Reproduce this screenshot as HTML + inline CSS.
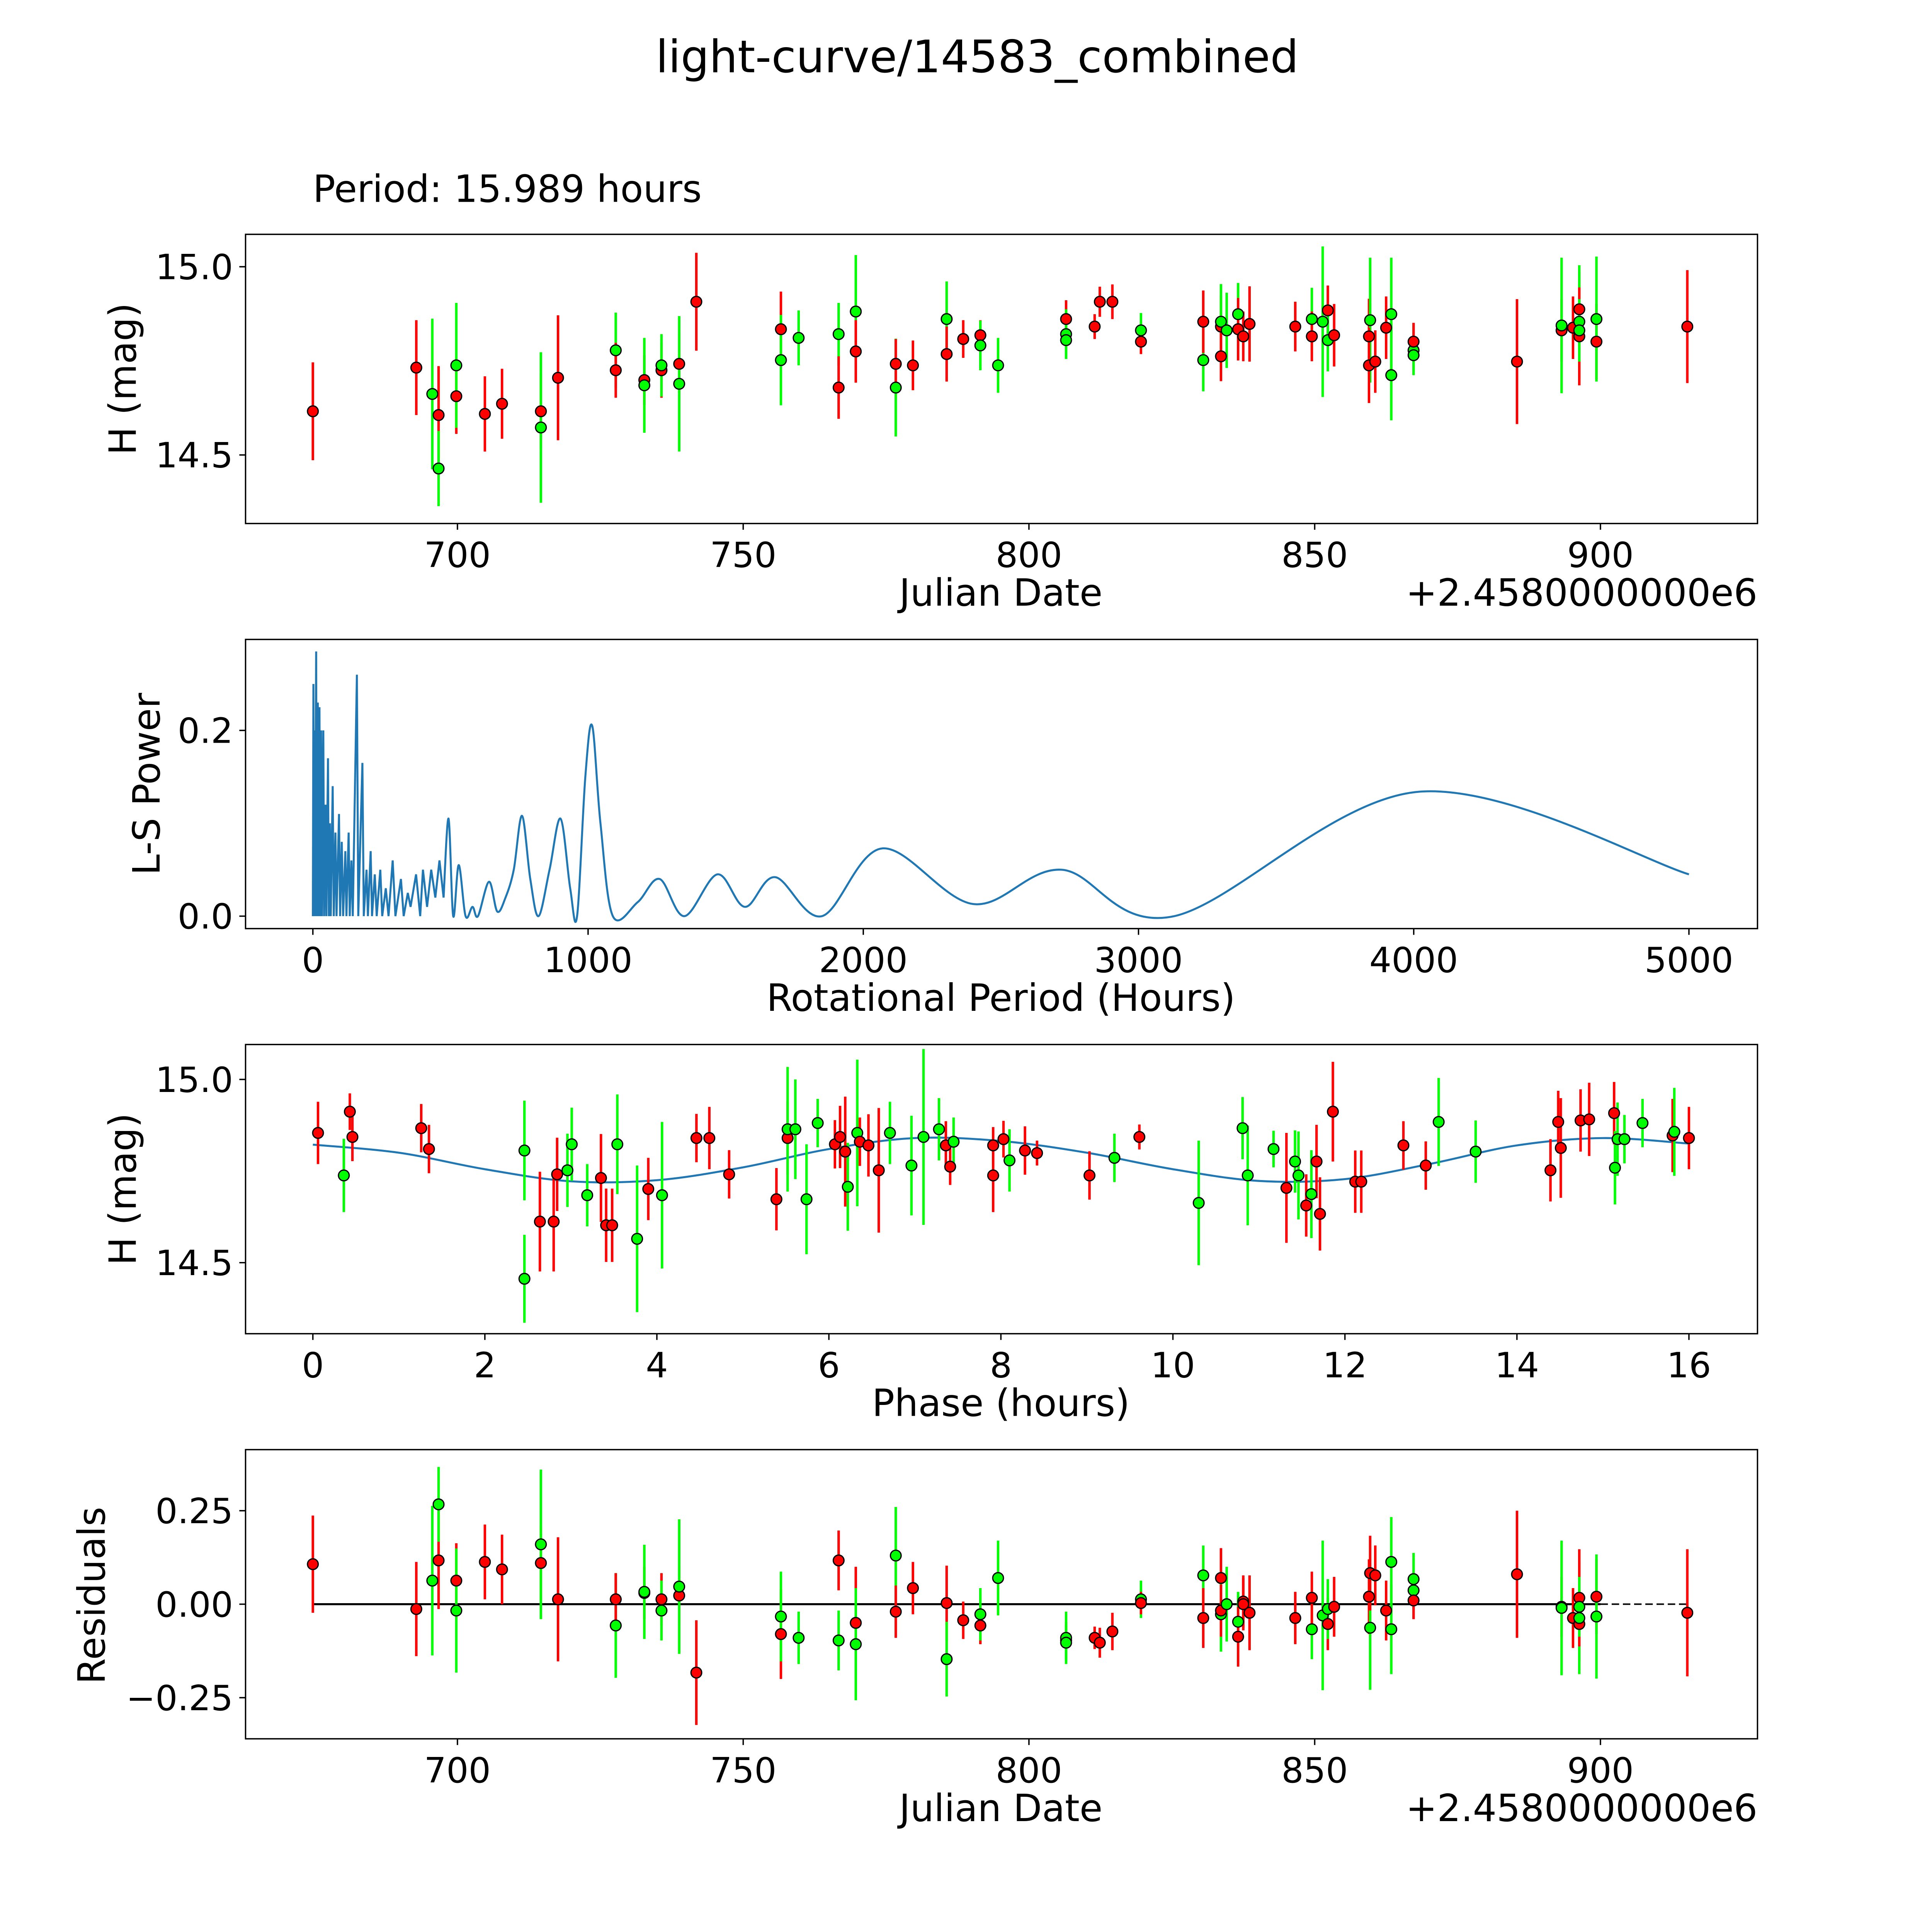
<!DOCTYPE html>
<html><head><meta charset="utf-8">
<style>
html,body{margin:0;padding:0;background:#fff;overflow:hidden;width:100%;height:100%;}
svg{display:block;position:fixed;left:0;top:0;width:100vw;height:100vh;}
text{font-family:"DejaVu Sans","Liberation Sans",sans-serif;fill:#000;}
</style></head>
<body>
<svg id="fig" viewBox="0 0 1550 1550" preserveAspectRatio="none" xmlns="http://www.w3.org/2000/svg">
<rect width="1550" height="1550" fill="#fff"/>
<text x="784" y="58" font-size="36" text-anchor="middle">light-curve/14583_combined</text>
<text x="251" y="162" font-size="30">Period: 15.989 hours</text>
<g id="g"></g>
</svg>
<script>
// ---------- Panel 1: light curve data ----------
const lcDate = [674.7,692.8,695.6,696.7,696.7,699.8,699.8,704.8,707.8,714.6,714.6,717.6,727.7,727.7,732.7,732.7,735.7,735.7,738.8,738.8,741.8,756.6,756.6,759.7,766.7,766.7,769.7,769.7,776.7,776.7,779.7,785.6,785.6,788.5,791.5,791.5,794.6,806.5,806.5,806.5,811.5,812.4,814.6,819.6,819.6,830.5,830.5,833.6,833.6,833.6,834.6,836.6,836.6,837.5,838.6,846.6,849.5,849.5,851.4,852.3,852.3,853.4,859.5,859.7,859.5,860.6,862.5,863.4,863.4,867.3,867.3,867.3,885.4,893.2,893.2,895.2,896.3,896.3,896.3,896.3,899.3,899.3,915.2];
const lcMag = [14.616,14.732,14.662,14.606,14.464,14.656,14.738,14.609,14.636,14.616,14.573,14.705,14.778,14.725,14.699,14.685,14.725,14.738,14.742,14.689,14.907,14.834,14.752,14.811,14.821,14.679,14.881,14.775,14.679,14.742,14.738,14.861,14.768,14.808,14.818,14.791,14.738,14.861,14.821,14.805,14.841,14.907,14.907,14.831,14.801,14.752,14.854,14.841,14.854,14.762,14.831,14.874,14.834,14.815,14.848,14.841,14.861,14.815,14.854,14.884,14.805,14.818,14.815,14.858,14.738,14.748,14.838,14.874,14.712,14.778,14.765,14.801,14.748,14.831,14.844,14.838,14.887,14.854,14.815,14.831,14.801,14.861,14.841];
const lcErr = [0.13,0.126,0.2,0.13,0.1,0.1,0.166,0.1,0.093,0.1,0.2,0.166,0.1,0.073,0.066,0.126,0.073,0.083,0.083,0.18,0.13,0.1,0.12,0.073,0.083,0.083,0.15,0.083,0.13,0.066,0.066,0.1,0.073,0.05,0.04,0.066,0.073,0.05,0.066,0.05,0.033,0.04,0.046,0.046,0.033,0.083,0.083,0.083,0.1,0.066,0.1,0.083,0.083,0.066,0.1,0.066,0.083,0.066,0.2,0.066,0.083,0.083,0.1,0.166,0.1,0.083,0.083,0.15,0.12,0.066,0.05,0.05,0.166,0.083,0.18,0.083,0.1,0.15,0.13,0.083,0.1,0.166,0.15];
const lcColor = ["r","r","g","r","g","r","g","r","r","r","g","r","g","r","r","g","r","g","r","g","r","r","g","g","g","r","g","r","g","r","r","g","r","r","r","g","g","r","g","g","r","r","r","g","r","g","r","r","g","r","g","g","r","r","r","r","g","r","g","r","g","r","r","g","r","r","r","g","g","g","g","r","r","r","g","r","r","g","r","g","r","g","r"];

// ---------- Panel 2: periodogram ----------
const pgPeriod = [0,2,4,6,8,12,14,18,20,24,27,30,33,38,41,46,49,55,58,62,65,72,76,82,86,95,99,105,110,118,122,130,134,140,145,160,165,180,185,195,200,210,215,225,232,245,252,265,275,290,300,320,330,345,355,375,390,400,415,430,445,460,475,493,510,530,555,580,600,640,670,700,730,760,790,820,860,900,935,960,990,1015,1045,1090,1180,1260,1350,1470,1570,1680,1850,2070,2400,2720,3130,4020,5000];
const pgPower = [0,0.25,0,0.2,0,0.285,0,0.23,0,0.225,0,0.2,0,0.2,0,0.12,0,0.17,0,0.1,0,0.14,0,0.09,0,0.11,0,0.08,0,0.07,0,0.09,0,0.06,0,0.26,0,0.165,0,0.05,0,0.07,0,0.045,0,0.05,0,0.03,0,0.06,0,0.04,0,0.025,0.01,0.045,0,0.05,0.01,0.05,0.02,0.06,0.02,0.105,0,0.055,0,0.01,0,0.037,0.005,0.02,0.05,0.108,0.04,0,0.05,0.105,0.03,0,0.15,0.205,0.1,0,0.015,0.04,0,0.045,0.01,0.042,0,0.073,0.013,0.05,0,0.134,0.045];

// ---------- Panel 3: phased ----------
const phPhase = [0.06,0.36,0.43,0.46,1.26,1.35,2.46,2.46,2.64,2.80,2.84,2.96,3.01,3.19,3.35,3.41,3.48,3.54,3.77,3.90,4.06,4.46,4.61,4.84,5.39,5.52,5.52,5.61,5.74,5.87,6.07,6.13,6.19,6.22,6.33,6.36,6.46,6.58,6.71,6.96,7.10,7.28,7.36,7.41,7.45,7.91,7.91,8.03,8.10,8.28,8.42,9.03,9.32,9.61,10.30,10.81,10.87,11.17,11.32,11.42,11.46,11.55,11.61,11.67,11.71,11.86,12.12,12.19,12.68,12.94,13.09,13.52,14.39,14.48,14.51,14.74,14.84,15.13,15.14,15.17,15.25,15.46,15.81,15.83,16.00];
const phMag = [14.854,14.738,14.912,14.843,14.867,14.810,14.806,14.456,14.612,14.612,14.741,14.752,14.823,14.684,14.731,14.602,14.602,14.823,14.565,14.701,14.684,14.840,14.840,14.741,14.673,14.840,14.864,14.864,14.673,14.881,14.823,14.843,14.803,14.707,14.854,14.830,14.820,14.752,14.854,14.765,14.843,14.864,14.820,14.762,14.830,14.820,14.738,14.837,14.779,14.806,14.799,14.738,14.786,14.843,14.663,14.867,14.738,14.810,14.704,14.776,14.738,14.656,14.687,14.776,14.633,14.912,14.721,14.721,14.820,14.765,14.884,14.803,14.752,14.884,14.813,14.888,14.891,14.908,14.759,14.837,14.837,14.881,14.847,14.857,14.840];
const phErr = [0.085,0.1,0.05,0.066,0.066,0.066,0.136,0.12,0.136,0.136,0.1,0.1,0.1,0.085,0.12,0.1,0.1,0.136,0.2,0.085,0.2,0.066,0.085,0.066,0.085,0.1,0.17,0.136,0.15,0.066,0.066,0.085,0.15,0.12,0.2,0.066,0.085,0.17,0.085,0.136,0.24,0.085,0.066,0.05,0.066,0.05,0.1,0.05,0.085,0.066,0.034,0.066,0.066,0.034,0.17,0.085,0.136,0.05,0.15,0.085,0.12,0.085,0.12,0.1,0.1,0.136,0.085,0.085,0.066,0.066,0.12,0.085,0.085,0.085,0.136,0.085,0.1,0.085,0.1,0.1,0.066,0.066,0.1,0.12,0.085];
const phColor = ["r","g","r","r","r","r","g","g","r","r","r","g","g","g","r","r","r","g","g","r","g","r","r","r","r","r","g","g","g","g","r","r","r","g","g","r","r","r","g","g","g","g","r","r","g","r","r","r","g","r","r","r","g","r","g","g","g","g","r","g","g","r","g","r","r","r","r","r","r","r","g","g","r","r","r","r","r","r","g","g","g","g","r","g","r"];
const modelPhase = [0,1,2,3,4,5,6,7,8,9,10,11,12,13,14,15,16];
const modelMag = [14.822,14.80,14.755,14.722,14.725,14.76,14.81,14.84,14.832,14.80,14.755,14.723,14.728,14.77,14.82,14.84,14.825];

// ---------- Panel 4: residuals ----------
const resDate = [674.7,692.8,695.6,696.7,696.7,699.8,699.8,704.8,707.8,714.6,714.6,717.6,727.7,727.7,732.7,732.7,735.7,735.7,738.8,738.8,741.8,756.6,756.6,759.7,766.7,766.7,769.7,769.7,776.7,776.7,779.7,785.6,785.6,788.5,791.5,791.5,794.6,806.5,806.5,806.5,811.5,812.4,814.6,819.6,819.6,830.5,830.5,833.6,833.6,833.6,834.6,836.6,836.6,837.5,837.5,838.6,846.6,849.5,849.5,851.4,852.3,852.3,853.4,859.5,859.7,859.7,860.6,862.5,863.4,863.4,867.3,867.3,867.3,885.4,893.2,893.2,895.2,896.3,896.3,896.3,896.3,899.3,899.3,915.2];
const resVal = [0.107,-0.013,0.063,0.117,0.267,0.063,-0.017,0.113,0.093,0.11,0.16,0.013,-0.057,0.013,0.03,0.033,0.013,-0.017,0.023,0.047,-0.183,-0.08,-0.033,-0.09,0.117,-0.097,-0.05,-0.107,0.13,-0.02,0.043,0.003,-0.147,-0.043,-0.057,-0.027,0.07,-0.097,-0.09,-0.103,-0.09,-0.103,-0.073,0.013,0.003,0.077,-0.037,0.07,-0.027,-0.017,0.0,-0.047,-0.087,0.007,0.0,-0.023,-0.037,-0.067,0.017,-0.03,-0.053,-0.013,-0.007,0.02,-0.063,0.083,0.077,-0.017,0.113,-0.067,0.067,0.037,0.01,0.08,-0.007,-0.01,-0.037,-0.053,-0.037,0.017,-0.007,0.02,-0.033,-0.023];
const resErr = [0.13,0.126,0.2,0.13,0.1,0.1,0.166,0.1,0.093,0.1,0.2,0.166,0.14,0.07,0.07,0.126,0.07,0.08,0.08,0.18,0.14,0.12,0.12,0.07,0.08,0.08,0.15,0.15,0.13,0.07,0.07,0.1,0.1,0.05,0.05,0.07,0.1,0.05,0.07,0.05,0.03,0.04,0.05,0.05,0.03,0.08,0.08,0.08,0.1,0.07,0.1,0.08,0.08,0.07,0.07,0.1,0.07,0.08,0.07,0.2,0.07,0.08,0.08,0.1,0.166,0.1,0.08,0.08,0.12,0.12,0.07,0.05,0.05,0.17,0.08,0.18,0.08,0.1,0.15,0.13,0.08,0.1,0.166,0.17];
const resColor = ["r","r","g","r","g","r","g","r","r","r","g","r","g","r","r","g","r","g","r","g","r","r","g","g","r","g","r","g","g","r","r","r","g","r","r","g","g","r","g","g","r","r","r","g","r","g","r","r","g","r","g","g","r","r","r","r","r","g","r","g","r","g","r","r","g","r","r","r","g","g","g","g","r","r","r","g","r","r","g","r","g","r","g","r"];

const jdTicks = [700,750,800,850,900];
const pgTicksX = [0,1000,2000,3000,4000,5000];
const pgTicksY = [0.0,0.2];
const magTicks = [14.5,15.0];
const phTicks = [0,2,4,6,8,10,12,14,16];
const resTicks = [-0.25,0,0.25];

const NS="http://www.w3.org/2000/svg";
const G=document.getElementById('g');
function el(tag,attrs,parent){const e=document.createElementNS(NS,tag);for(const k in attrs)e.setAttribute(k,attrs[k]);(parent||G).appendChild(e);return e;}
function lin(d0,d1,p0,p1){return v=>p0+(v-d0)*(p1-p0)/(d1-d0);}
const COL={r:"#ff0000",g:"#00ff00"};

const xJD=lin(700,900,367,1284);
const yMag1=lin(15,14.5,214,365);
const xPg=lin(0,5000,251,1355);
const yPg=lin(0,0.2,735,586);
const xPh=lin(0,16,251,1355);
const yPh=lin(15,14.5,866,1013);
const yRes=lin(0,0.25,1287,1212);

function frame(name,x0,y0,x1,y1){
  const r=el('rect',{x:x0,y:y0,width:x1-x0,height:y1-y0,fill:'none',stroke:'#000','stroke-width':1.1});
  
  
}
function xticks(name,ticks,fx,yb,fmt){
  const g=el('g',{});
  
  
  ticks.forEach(t=>{const x=fx(t);
    el('line',{x1:x,x2:x,y1:yb,y2:yb+5,stroke:'#000','stroke-width':1.1},g);
    const tx=el('text',{x:x,y:yb+35,'font-size':28,'text-anchor':'middle'},g);tx.textContent=fmt(t);});
}
function yticks(name,ticks,fy,xl,fmt){
  const g=el('g',{});
  
  
  ticks.forEach(t=>{const y=fy(t);
    el('line',{x1:xl,x2:xl-5,y1:y,y2:y,stroke:'#000','stroke-width':1.1},g);
    const tx=el('text',{x:xl-10,y:y+10,'font-size':28,'text-anchor':'end'},g);tx.textContent=fmt(t);});
}
function label(name,txt,x,y,rot){
  const t=el('text',{x:x,y:y,'font-size':30,'text-anchor':'middle'});
  if(rot)t.setAttribute('transform','rotate(-90 '+x+' '+y+')');
  t.textContent=txt;
  
  
}
function points(name,xs,ys,es,cs,fx,fy){
  const g=el('g',{});
  
  
  for(let i=0;i<xs.length;i++){
    const x=fx(xs[i]),y=fy(ys[i]),e=Math.abs(fy(ys[i]+es[i])-y);
    el('line',{x1:x,x2:x,y1:y-e,y2:y+e,stroke:COL[cs[i]],'stroke-width':2},g);
  }
  for(let i=0;i<xs.length;i++){
    const c=el('circle',{cx:fx(xs[i]),cy:fy(ys[i]),r:4.3,fill:COL[cs[i]],stroke:'#000','stroke-width':1},g);
    
    
  }
}
function catmull(pts){
  let d='M'+pts[0][0]+','+pts[0][1];
  for(let i=0;i<pts.length-1;i++){
    const p0=pts[Math.max(0,i-1)],p1=pts[i],p2=pts[i+1],p3=pts[Math.min(pts.length-1,i+2)];
    const c1=[p1[0]+(p2[0]-p0[0])/6,p1[1]+(p2[1]-p0[1])/6];
    const c2=[p2[0]-(p3[0]-p1[0])/6,p2[1]-(p3[1]-p1[1])/6];
    d+=' C'+c1[0]+','+c1[1]+' '+c2[0]+','+c2[1]+' '+p2[0]+','+p2[1];
  }
  return d;
}
const off='+2.4580000000e6';

// Panel 1
frame('light-curve-axes',197,188,1410,420);
points('light-curve-points',lcDate,lcMag,lcErr,lcColor,xJD,yMag1);
xticks('light-curve-x-ticks',jdTicks,xJD,420,t=>String(t));
yticks('light-curve-y-ticks',magTicks,yMag1,197,t=>t.toFixed(1));
label('light-curve-x-title','Julian Date',803,486);
label('light-curve-y-title','H (mag)',109,304,true);
let o=el('text',{x:1410,y:486,'font-size':30,'text-anchor':'end'});o.textContent=off;



// Panel 2
frame('periodogram-axes',197,513,1410,745);
{
  const spk=[],smooth=[];
  for(let i=0;i<pgPeriod.length;i++){const p=[xPg(pgPeriod[i]),yPg(pgPower[i])];
    if(pgPeriod[i]<=480)spk.push(p); if(pgPeriod[i]>=475)smooth.push(p);}
  const p1=el('path',{d:'M'+spk.map(p=>p[0]+','+p[1]).join(' L'),fill:'none',stroke:'#1f77b4','stroke-width':1.6});
  
  
  const p2=el('path',{d:catmull(smooth),fill:'none',stroke:'#1f77b4','stroke-width':1.6});
  
  
}
xticks('periodogram-x-ticks',pgTicksX,xPg,745,t=>String(t));
yticks('periodogram-y-ticks',pgTicksY,yPg,197,t=>t.toFixed(1));
label('periodogram-x-title','Rotational Period (Hours)',803,811);
label('periodogram-y-title','L-S Power',128,629,true);

// Panel 3
frame('phase-axes',197,838,1410,1070);
{
  const pts=modelPhase.map((p,i)=>[xPh(p),yPh(modelMag[i])]);
  const m=el('path',{d:catmull(pts),fill:'none',stroke:'#1f77b4','stroke-width':1.6});
  
  
}
points('phase-points',phPhase,phMag,phErr,phColor,xPh,yPh);
xticks('phase-x-ticks',phTicks,xPh,1070,t=>String(t));
yticks('phase-y-ticks',magTicks,yPh,197,t=>t.toFixed(1));
label('phase-x-title','Phase (hours)',803,1136);
label('phase-y-title','H (mag)',109,954,true);

// Panel 4
frame('residuals-axes',197,1163,1410,1395);
{
  const zl=el('line',{x1:xJD(674.7),x2:xJD(900),y1:yRes(0),y2:yRes(0),stroke:'#000','stroke-width':1.6});
  
  
  const zd=el('line',{x1:xJD(900),x2:xJD(915.2),y1:yRes(0),y2:yRes(0),stroke:'#000','stroke-width':1.2,'stroke-dasharray':'6,3'});
  
  
}
points('residual-points',resDate,resVal,resErr,resColor,xJD,yRes);
xticks('residuals-x-ticks',jdTicks,xJD,1395,t=>String(t));
yticks('residuals-y-ticks',resTicks,yRes,197,t=>(t<0?'\u2212':'')+Math.abs(t).toFixed(2));
label('residuals-x-title','Julian Date',803,1461);
label('residuals-y-title','Residuals',84,1280,true);
o=el('text',{x:1410,y:1461,'font-size':30,'text-anchor':'end'});o.textContent=off;


</script>
</body></html>
